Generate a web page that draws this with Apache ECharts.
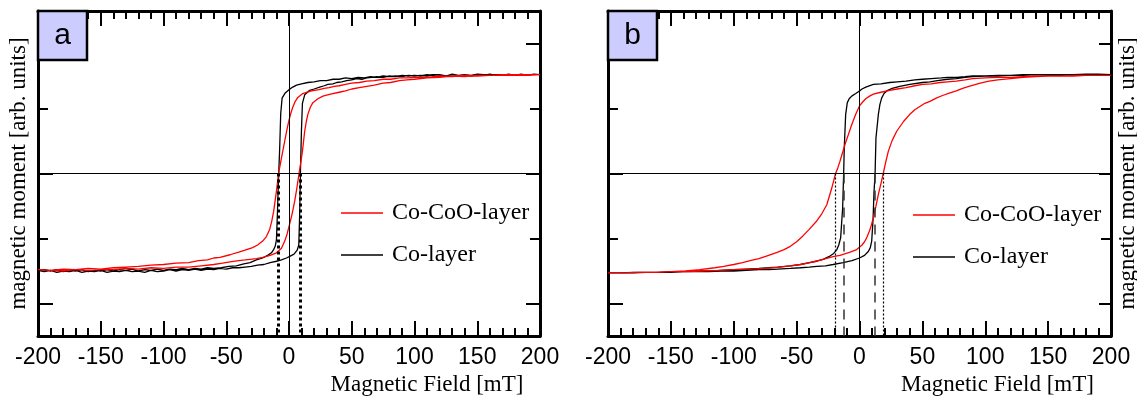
<!DOCTYPE html>
<html>
<head>
<meta charset="utf-8">
<script src="https://cdn.jsdelivr.net/npm/echarts@6/dist/echarts.min.js"></script>
<style>
  html, body { margin: 0; padding: 0; background: #fff; }
  #chart { width: 1137px; height: 397px; }
</style>
</head>
<body>
<div id="chart"></div>
<script>
// field in mT, moment in arb. units; each loop = branch down (+200 -> -200) then branch up
const aCoDown = [[200,1.52],[195,1.53],[190,1.51],[185,1.53],[180,1.52],[175,1.53],[170,1.51],[165,1.52],[160,1.53],[155,1.51],[150,1.52],[145,1.50],[140,1.52],[135,1.51],[130,1.52],[125,1.50],[120,1.51],[115,1.52],[110,1.50],[105,1.51],[100,1.50],[95,1.51],[90,1.49],[85,1.50],[80,1.49],[75,1.50],[70,1.48],[65,1.49],[60,1.47],[55,1.48],[50,1.46],[45,1.47],[40,1.45],[35,1.45],[30,1.43],[25,1.43],[20,1.41],[15,1.40],[10,1.38],[6,1.36],[3,1.33],[0,1.29],[-3,1.24],[-5.5,1.16],[-6.6,0.92],[-7.4,0.40],[-8.2,0.0],[-9.2,-0.60],[-10,-1.02],[-11,-1.12],[-12.5,-1.18],[-14,-1.22],[-17,-1.26],[-21,-1.30],[-26,-1.33],[-31,-1.37],[-36,-1.39],[-42,-1.42],[-48,-1.43],[-54,-1.45],[-60,-1.46],[-65,-1.45],[-70,-1.47],[-75,-1.46],[-80,-1.48],[-85,-1.46],[-90,-1.48],[-95,-1.47],[-100,-1.49],[-105,-1.47],[-110,-1.49],[-115,-1.48],[-120,-1.50],[-125,-1.47],[-130,-1.49],[-135,-1.48],[-140,-1.50],[-145,-1.48],[-150,-1.50],[-155,-1.49],[-160,-1.51],[-165,-1.48],[-170,-1.50],[-175,-1.49],[-180,-1.51],[-185,-1.48],[-190,-1.50],[-195,-1.48],[-200,-1.49]];
const aCoUp = [[-200,-1.49],[-195,-1.51],[-190,-1.49],[-185,-1.52],[-180,-1.50],[-175,-1.51],[-170,-1.49],[-165,-1.52],[-160,-1.50],[-155,-1.51],[-150,-1.49],[-145,-1.52],[-140,-1.50],[-135,-1.51],[-130,-1.49],[-125,-1.51],[-120,-1.50],[-115,-1.52],[-110,-1.49],[-105,-1.51],[-100,-1.50],[-95,-1.48],[-90,-1.50],[-85,-1.48],[-80,-1.49],[-75,-1.47],[-70,-1.49],[-65,-1.47],[-60,-1.48],[-55,-1.46],[-50,-1.47],[-45,-1.45],[-40,-1.45],[-35,-1.44],[-30,-1.43],[-25,-1.41],[-20,-1.40],[-15,-1.37],[-10,-1.35],[-6,-1.33],[-2,-1.30],[1,-1.27],[4,-1.24],[6.5,-1.18],[7.8,-1.10],[8.5,-0.63],[9.1,0.0],[9.9,0.65],[10.7,1.08],[12.5,1.21],[16.5,1.28],[20,1.30],[24.5,1.33],[28,1.35],[31,1.37],[35,1.38],[38,1.40],[42,1.41],[46,1.43],[50,1.44],[54,1.46],[58,1.45],[62,1.47],[66,1.48],[70,1.49],[75,1.48],[80,1.50],[85,1.49],[90,1.51],[95,1.50],[100,1.51],[105,1.50],[110,1.52],[115,1.51],[120,1.52],[125,1.50],[130,1.53],[135,1.51],[140,1.52],[145,1.51],[150,1.53],[155,1.52],[160,1.53],[165,1.51],[170,1.52],[175,1.53],[180,1.51],[185,1.53],[190,1.52],[195,1.53],[200,1.52]];
const aCoCoODown = [[200,1.52],[190,1.51],[180,1.52],[170,1.51],[160,1.51],[150,1.50],[140,1.51],[130,1.49],[120,1.50],[110,1.48],[100,1.48],[94,1.47],[88,1.47],[81,1.45],[75,1.45],[68,1.43],[62,1.42],[56,1.40],[50,1.39],[45,1.37],[40,1.35],[36,1.34],[32,1.32],[28,1.31],[24,1.29],[18,1.27],[14,1.25],[11,1.23],[7,1.17],[5,1.11],[3,1.02],[1.5,0.93],[0,0.82],[-1.7,0.67],[-3.4,0.50],[-6,0.24],[-8.3,0.0],[-10,-0.27],[-12.2,-0.58],[-13.8,-0.74],[-15.4,-0.86],[-18,-0.97],[-21,-1.04],[-25,-1.10],[-29,-1.14],[-35,-1.18],[-40,-1.21],[-47,-1.25],[-55,-1.29],[-60,-1.30],[-65,-1.33],[-72,-1.34],[-80,-1.37],[-90,-1.38],[-100,-1.40],[-110,-1.41],[-120,-1.43],[-130,-1.44],[-140,-1.45],[-150,-1.47],[-160,-1.46],[-170,-1.48],[-180,-1.47],[-190,-1.49],[-200,-1.48]];
const aCoCoOUp = [[-200,-1.50],[-190,-1.49],[-180,-1.50],[-170,-1.48],[-160,-1.49],[-150,-1.48],[-140,-1.48],[-130,-1.46],[-120,-1.47],[-110,-1.45],[-100,-1.46],[-90,-1.44],[-80,-1.44],[-70,-1.42],[-60,-1.40],[-53,-1.38],[-47,-1.36],[-40,-1.34],[-35,-1.33],[-31,-1.32],[-26,-1.31],[-21,-1.29],[-15,-1.26],[-10,-1.22],[-6,-1.15],[-3.4,-1.04],[-1.5,-0.93],[0.5,-0.78],[2.5,-0.62],[4.5,-0.43],[6.3,-0.22],[8,0.0],[9.4,0.17],[10.7,0.34],[12.5,0.65],[13.8,0.80],[15,0.91],[17,1.02],[19,1.09],[23,1.15],[27,1.19],[33,1.22],[40,1.25],[45,1.27],[50,1.30],[56,1.32],[62,1.34],[68,1.36],[75,1.39],[81,1.40],[88,1.43],[94,1.44],[100,1.45],[110,1.47],[120,1.48],[130,1.50],[140,1.49],[150,1.51],[160,1.51],[170,1.52],[180,1.51],[190,1.52],[200,1.52]];

const bCoDown = [[200,1.52],[190,1.53],[180,1.52],[170,1.52],[160,1.51],[150,1.52],[140,1.52],[130,1.51],[120,1.51],[110,1.51],[100,1.50],[90,1.50],[84,1.49],[77,1.48],[70,1.48],[65,1.47],[57,1.46],[50,1.45],[44,1.44],[37,1.42],[30,1.41],[24,1.40],[17,1.38],[11,1.37],[5,1.33],[2,1.30],[0,1.27],[-3,1.23],[-6.2,1.19],[-8.2,1.15],[-9.7,1.09],[-11,0.91],[-12.1,0.40],[-12.6,0.0],[-13.4,-0.53],[-15,-0.99],[-16.5,-1.10],[-18,-1.17],[-20.5,-1.23],[-23.5,-1.27],[-29,-1.32],[-34,-1.35],[-40,-1.37],[-47,-1.40],[-55,-1.42],[-65,-1.44],[-72,-1.45],[-80,-1.46],[-90,-1.47],[-100,-1.48],[-110,-1.49],[-120,-1.50],[-130,-1.50],[-140,-1.51],[-150,-1.51],[-160,-1.52],[-170,-1.52],[-180,-1.52],[-190,-1.53],[-200,-1.53]];
const bCoUp = [[-200,-1.53],[-190,-1.53],[-180,-1.53],[-170,-1.52],[-160,-1.52],[-150,-1.52],[-140,-1.51],[-130,-1.51],[-120,-1.51],[-110,-1.50],[-100,-1.50],[-90,-1.49],[-80,-1.48],[-72,-1.48],[-65,-1.47],[-55,-1.46],[-47,-1.45],[-40,-1.44],[-34,-1.43],[-27,-1.42],[-21,-1.40],[-13,-1.37],[-6,-1.34],[0,-1.30],[4,-1.26],[7,-1.20],[8.6,-1.14],[9.7,-1.04],[10.8,-0.70],[11.5,-0.30],[12.4,0.0],[13.1,0.55],[15,0.91],[16.2,1.06],[17.6,1.16],[19.5,1.23],[21.6,1.27],[26,1.31],[32,1.34],[40,1.37],[50,1.40],[56,1.41],[62,1.43],[70,1.45],[77,1.46],[84,1.48],[90,1.49],[100,1.50],[110,1.50],[120,1.51],[130,1.52],[140,1.52],[150,1.51],[160,1.52],[170,1.52],[180,1.53],[190,1.52],[200,1.52]];
const bCoCoODown = [[200,1.51],[190,1.51],[180,1.51],[170,1.50],[160,1.50],[150,1.50],[140,1.50],[130,1.49],[120,1.48],[110,1.48],[100,1.47],[90,1.46],[84,1.44],[77,1.42],[70,1.41],[64,1.40],[57,1.38],[50,1.37],[44,1.35],[37,1.32],[30,1.30],[24,1.28],[17,1.25],[11,1.22],[8,1.19],[5,1.15],[2.5,1.10],[0,1.04],[-3,0.91],[-6.2,0.75],[-9,0.59],[-11.5,0.45],[-13.5,0.32],[-15.5,0.19],[-17.2,0.09],[-19,0.0],[-20.5,-0.11],[-22,-0.22],[-24,-0.35],[-26,-0.48],[-30,-0.62],[-34,-0.73],[-40,-0.86],[-45,-0.96],[-50,-1.05],[-55,-1.12],[-60,-1.17],[-65,-1.21],[-74,-1.27],[-80,-1.31],[-87,-1.34],[-93,-1.37],[-100,-1.40],[-108,-1.43],[-115,-1.45],[-127,-1.48],[-138,-1.50],[-150,-1.51],[-162,-1.52],[-175,-1.52],[-188,-1.53],[-200,-1.53]];
const bCoCoOUp = [[-200,-1.53],[-188,-1.53],[-175,-1.52],[-162,-1.52],[-150,-1.51],[-138,-1.51],[-125,-1.50],[-112,-1.49],[-100,-1.48],[-87,-1.47],[-74,-1.46],[-64,-1.44],[-55,-1.42],[-47,-1.40],[-41,-1.38],[-35,-1.35],[-29,-1.32],[-21,-1.28],[-15.5,-1.26],[-7.5,-1.21],[-2.2,-1.17],[2,-1.10],[4,-1.05],[5.7,-0.99],[8,-0.88],[9.5,-0.79],[11,-0.68],[13,-0.51],[15,-0.32],[17,-0.16],[18.9,0.0],[20.8,0.17],[22.9,0.34],[26,0.51],[29.6,0.65],[35,0.80],[40,0.91],[44,0.98],[48,1.03],[52,1.08],[56,1.11],[61,1.16],[66,1.20],[72,1.24],[77,1.27],[82,1.31],[87,1.34],[96,1.39],[103,1.42],[110,1.44],[120,1.46],[130,1.48],[140,1.49],[150,1.50],[162,1.50],[175,1.51],[188,1.51],[200,1.51]];

// coercive fields marked by vertical lines (mT)
const coerciveA = [-8.8, 8.8];
const coerciveBRed = [-18.9, 18.9];
const coerciveBBlack = [-12.6, 12.4];
const momentMajorTicks = [-2, 0, 2];
const momentMinorTicks = [-1, 1];
const seriesNames = ['Co-CoO-layer', 'Co-layer'];
const panelLabels = ['a', 'b'];

const black = '#000';
const red = '#ff0000';
const serif = '"Liberation Serif", "Times New Roman", serif';
const sans = '"Liberation Sans", Arial, sans-serif';

const chart = echarts.init(document.getElementById('chart'));

function xAxes(g) {
  const base = {
    gridIndex: g, type: 'value', min: -200, max: 200, interval: 50,
    axisLine: { onZero: false, lineStyle: { color: black, width: 3 } },
    axisTick: { inside: true, length: 15, lineStyle: { color: black, width: 2 } },
    minorTick: { show: true, splitNumber: 5, length: 8, lineStyle: { color: black, width: 2 } },
    splitLine: { show: false }
  };
  return [
    Object.assign({}, base, {
      position: 'bottom',
      axisLabel: { color: black, fontFamily: sans, fontSize: 23, margin: 10 },
      name: 'Magnetic Field [mT]', nameLocation: 'middle', nameGap: 36,
      nameTextStyle: { color: black, fontFamily: serif, fontSize: 23, padding: [0, 0, 0, 276] }
    }),
    Object.assign({}, base, { position: 'top', axisLabel: { show: false } })
  ];
}

function yAxis(g, pos, ticks, len, line, name, gap) {
  const ax = {
    gridIndex: g, type: 'value', position: pos, min: -2.5, max: 2.5,
    axisLine: { show: line, onZero: false, lineStyle: { color: black, width: 3 } },
    axisTick: { show: true, inside: true, length: len, customValues: ticks, lineStyle: { color: black, width: 2 } },
    axisLabel: { show: false },
    splitLine: { show: false }
  };
  if (name) {
    ax.name = name;
    ax.nameLocation = 'middle';
    ax.nameRotate = 90;
    ax.nameGap = gap;
    ax.nameTextStyle = { color: black, fontFamily: serif, fontSize: 23 };
  }
  return ax;
}

const yName = 'magnetic moment [arb. units]';
const yAxesAll = [
  yAxis(0, 'left', momentMajorTicks, 15, true, yName, 8),
  yAxis(0, 'left', momentMinorTicks, 10, false),
  yAxis(0, 'right', momentMajorTicks, 14, true),
  yAxis(0, 'right', momentMinorTicks, 10, false),
  yAxis(1, 'left', momentMajorTicks, 15, true),
  yAxis(1, 'left', momentMinorTicks, 10, false),
  yAxis(1, 'right', momentMajorTicks, 12, true, yName, 5),
  yAxis(1, 'right', momentMinorTicks, 10, false)
];

function vLines(values, style) {
  return values.map(h => [
    { coord: [h, 0], lineStyle: style },
    { coord: [h, -2.5] }
  ]);
}

const zeroLines = [{ yAxis: 0 }, { xAxis: 0 }];

function loopSeries(name, color, xi, yi, data, marks) {
  const s = {
    name: name, type: 'line', xAxisIndex: xi, yAxisIndex: yi,
    data: data, symbol: 'none', smooth: false,
    lineStyle: { color: color, width: 1.3 },
    itemStyle: { color: color },
    emphasis: { disabled: true }
  };
  if (marks) {
    s.markLine = {
      silent: true, symbol: 'none', animation: false,
      label: { show: false },
      lineStyle: { color: black, width: 1, type: 'solid' },
      data: marks
    };
  }
  return s;
}

function legendAt(left, top) {
  return {
    data: seriesNames, left: left, top: top, orient: 'vertical',
    icon: 'rect', itemWidth: 42, itemHeight: 1.5, itemGap: 18, padding: 0, selectedMode: false,
    textStyle: { color: black, fontFamily: serif, fontSize: 24, lineHeight: 24, padding: [0, 0, 0, 4] }
  };
}

function labelBox(x, text) {
  return [
    { type: 'rect', z: 100, shape: { x: x, y: 11, width: 49, height: 49 },
      style: { fill: '#ccccff', stroke: black, lineWidth: 2.5 } },
    { type: 'text', z: 101, x: x + 24.5, y: 35.5,
      style: { text: text, fill: black, fontFamily: sans, fontSize: 30, align: 'center', verticalAlign: 'middle' } }
  ];
}

chart.setOption({
  animation: false,
  backgroundColor: '#fff',
  grid: [
    { left: 38, top: 11, width: 502, height: 325, outerBoundsMode: 'none' },
    { left: 608, top: 11, width: 503, height: 325, outerBoundsMode: 'none' }
  ],
  xAxis: xAxes(0).concat(xAxes(1)),
  yAxis: yAxesAll,
  legend: [legendAt(341, 201), legendAt(913, 203)],
  graphic: labelBox(38, panelLabels[0]).concat(labelBox(608, panelLabels[1])),
  series: [
    loopSeries('Co-layer', black, 0, 0, aCoDown.concat(aCoUp),
      zeroLines.concat(vLines(coerciveA, { color: black, width: 3, type: [3, 3] }))),
    loopSeries('Co-CoO-layer', red, 0, 0, aCoCoODown.concat(aCoCoOUp)),
    loopSeries('Co-layer', black, 2, 4, bCoDown.concat(bCoUp),
      zeroLines.concat(vLines(coerciveBBlack, { color: '#333', width: 1.5, type: [10, 7] }))),
    loopSeries('Co-CoO-layer', red, 2, 4, bCoCoODown.concat(bCoCoOUp),
      vLines(coerciveBRed, { color: black, width: 1.2, type: [2, 2] }))
  ]
});
</script>
</body>
</html>
